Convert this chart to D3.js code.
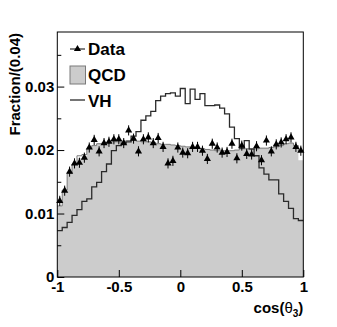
<!DOCTYPE html>
<html>
<head>
<meta charset="utf-8">
<script src="https://cdn.jsdelivr.net/npm/d3@7"></script>
<style>
    body { margin: 0; background: #fff; }
    svg { display: block; font-family: "Liberation Sans", Arial, Helvetica, sans-serif; font-weight: bold; }
</style>
</head>
<body>
<div id="chart"></div>
<script>
// 50 bins of width 0.04 between -1 and 1
const binRange = [-1, 1]
const binCount = 50

const dataValues = [
    0.0120, 0.0136, 0.0166, 0.0179, 0.0180, 0.0188, 0.0204, 0.0216, 0.0198, 0.0211,
    0.0213, 0.0217, 0.0217, 0.0211, 0.0231, 0.0218, 0.0198, 0.0217, 0.0220, 0.0211,
    0.0219, 0.0205, 0.0179, 0.0183, 0.0204, 0.0196, 0.0195, 0.0205, 0.0205, 0.0199,
    0.0186, 0.0210, 0.0204, 0.0196, 0.0197, 0.0210, 0.0187, 0.0207, 0.0194, 0.0193,
    0.0206, 0.0184, 0.0215, 0.0198, 0.0209, 0.0212, 0.0217, 0.0220, 0.0205, 0.0199
]
const dataErrors = 0.0008

const qcdValues = [
    0.0112, 0.0137, 0.0163, 0.0178, 0.0187, 0.0191, 0.0202, 0.0207, 0.0210, 0.0211,
    0.0212, 0.0213, 0.0213, 0.0214, 0.0215, 0.0215, 0.0214, 0.0213, 0.0213, 0.0212,
    0.0210, 0.0209, 0.0209, 0.0208, 0.0207, 0.0206, 0.0205, 0.0204, 0.0203, 0.0202,
    0.0201, 0.0200, 0.0199, 0.0199, 0.0199, 0.0199, 0.0200, 0.0202, 0.0202, 0.0201,
    0.0202, 0.0203, 0.0203, 0.0204, 0.0205, 0.0207, 0.0210, 0.0211, 0.0207, 0.0184
]
// outline drawn over the grey fill, differs from it in a few bins
const qcdLineValues = [
    0.0112, 0.0137, 0.0163, 0.0178, 0.0191, 0.0193, 0.0202, 0.0207, 0.0210, 0.0211,
    0.0212, 0.0213, 0.0213, 0.0214, 0.0215, 0.0215, 0.0214, 0.0213, 0.0213, 0.0212,
    0.0210, 0.0209, 0.0209, 0.0208, 0.0207, 0.0206, 0.0205, 0.0204, 0.0203, 0.0202,
    0.0201, 0.0200, 0.0199, 0.0199, 0.0199, 0.0199, 0.0200, 0.0202, 0.0202, 0.0201,
    0.0202, 0.0203, 0.0203, 0.0204, 0.0205, 0.0207, 0.0210, 0.0211, 0.0207, 0.0199
]

const vhValues = [
    0.0073, 0.0078, 0.0086, 0.0097, 0.0106, 0.0119, 0.0123, 0.0142, 0.0149, 0.0166,
    0.0178, 0.0199, 0.0207, 0.0211, 0.0213, 0.0222, 0.0229, 0.0247, 0.0254, 0.0261,
    0.0278, 0.0285, 0.0289, 0.0290, 0.0285, 0.0297, 0.0273, 0.0296, 0.0280, 0.0289,
    0.0270, 0.0270, 0.0271, 0.0266, 0.0257, 0.0236, 0.0218, 0.0203, 0.0215, 0.0202,
    0.0191, 0.0172, 0.0162, 0.0153, 0.0153, 0.0131, 0.0119, 0.0108, 0.0092, 0.0089
]

const xTicks = [-1, -0.5, 0, 0.5, 1]
const yTicks = [0, 0.01, 0.02, 0.03]
const yMinorTicks = [0.005, 0.015, 0.025, 0.035]
const legendLabels = ["Data", "QCD", "VH"]
const xTitleSub = "3"
const yTitle = "Fraction/(0.04)"

const width = 337, height = 327
const frame = { left: 57.3, right: 303.3, top: 32, bottom: 277 }

const svg = d3.select("#chart")
    .append("svg")
    .attr("width", width)
    .attr("height", height)

const x = d3.scaleLinear().domain(binRange).range([frame.left, frame.right])
const y = d3.scaleLinear().domain([0, 0.0386]).range([frame.bottom, frame.top])

const binWidth = (binRange[1] - binRange[0]) / binCount
const binEdge = i => binRange[0] + i * binWidth

const toSteps = function (values) {
    return values.map((v, i) => [binEdge(i), v]).concat([[binEdge(values.length), values[values.length - 1]]])
}

const stepLine = d3.line()
    .x(d => x(d[0]))
    .y(d => y(d[1]))
    .curve(d3.curveStepAfter)

const stepArea = d3.area()
    .x(d => x(d[0]))
    .y0(y(0))
    .y1(d => y(d[1]))
    .curve(d3.curveStepAfter)

// QCD filled histogram
svg.append("path")
    .attr("d", stepArea(toSteps(qcdValues)))
    .attr("fill", "#cccccc")

svg.append("path")
    .attr("d", stepLine(toSteps(qcdLineValues)))
    .attr("fill", "none")
    .attr("stroke", "#7a7a7a")
    .attr("stroke-width", 1)

// VH line histogram
svg.append("path")
    .attr("d", stepLine(toSteps(vhValues)))
    .attr("fill", "none")
    .attr("stroke", "#2a2a2a")
    .attr("stroke-width", 1.3)

// data points
const triangle = d3.symbol().type(d3.symbolTriangle).size(22)
const points = svg.append("g")
points.selectAll("line")
    .data(dataValues)
    .join("line")
    .attr("x1", (d, i) => x(binEdge(i) + binWidth / 2))
    .attr("x2", (d, i) => x(binEdge(i) + binWidth / 2))
    .attr("y1", d => y(d - dataErrors))
    .attr("y2", d => y(d + dataErrors))
    .attr("stroke", "#000")
    .attr("stroke-width", 1)
points.selectAll("path")
    .data(dataValues)
    .join("path")
    .attr("d", triangle)
    .attr("transform", (d, i) => `translate(${x(binEdge(i) + binWidth / 2)},${y(d)})`)
    .attr("fill", "#000")

// frame
svg.append("rect")
    .attr("x", frame.left)
    .attr("y", frame.top)
    .attr("width", frame.right - frame.left)
    .attr("height", frame.bottom - frame.top)
    .attr("fill", "none")
    .attr("stroke", "#000")
    .attr("stroke-width", 1)

// axes
const yAxis = svg.append("g")
    .attr("transform", `translate(${frame.left},0)`)
    .call(d3.axisLeft(y)
        .tickValues(yTicks)
        .tickSizeInner(-7)
        .tickSizeOuter(0)
        .tickPadding(3)
        .tickFormat(d => d === 0 ? "0" : d3.format(".2f")(d)))
svg.append("g")
    .attr("transform", `translate(${frame.left},0)`)
    .call(d3.axisLeft(y).tickValues(yMinorTicks).tickSizeInner(-4).tickSizeOuter(0).tickFormat(""))
    .call(g => g.select(".domain").remove())

const xAxis = svg.append("g")
    .attr("transform", `translate(0,${frame.bottom})`)
    .call(d3.axisBottom(x)
        .tickValues(xTicks)
        .tickSizeInner(-7)
        .tickSizeOuter(0)
        .tickPadding(4)
        .tickFormat(d => String(d)))

for (let axis of [yAxis, xAxis]) {
    axis.select(".domain").remove()
    axis.selectAll("text")
        .attr("font-size", 15)
        .attr("font-family", "'Liberation Sans', Arial, sans-serif")
        .attr("font-weight", "bold")
        .attr("fill", "#000")
}
svg.selectAll(".tick line").attr("stroke", "#000")

// axis titles
const xLabel = svg.append("text")
    .attr("x", frame.right)
    .attr("y", 313)
    .attr("text-anchor", "end")
    .attr("font-size", 15)
    .text("cos(")
xLabel.append("tspan").attr("font-weight", "normal").text("θ")
xLabel.append("tspan").attr("font-size", 10).attr("dy", 4).text(xTitleSub)
xLabel.append("tspan").attr("dy", -4).text(")")

svg.append("text")
    .attr("transform", `translate(20,${frame.top + 1}) rotate(-90)`)
    .attr("text-anchor", "end")
    .attr("font-size", 15)
    .text(yTitle)

// legend
const legend = svg.append("g")
legend.append("line")
    .attr("x1", 70).attr("x2", 85)
    .attr("y1", 49).attr("y2", 49)
    .attr("stroke", "#000")
legend.append("path")
    .attr("d", triangle)
    .attr("transform", "translate(77.5,49)")
legend.append("rect")
    .attr("x", 70).attr("y", 66)
    .attr("width", 15.5).attr("height", 18)
    .attr("fill", "#cccccc")
    .attr("stroke", "#7a7a7a")
legend.append("line")
    .attr("x1", 70).attr("x2", 85)
    .attr("y1", 100).attr("y2", 100)
    .attr("stroke", "#2a2a2a")
    .attr("stroke-width", 1.3)

legend.selectAll("text")
    .data(legendLabels)
    .join("text")
    .attr("x", 88)
    .attr("y", (d, i) => 55 + i * 26)
    .attr("font-size", 17)
    .text(d => d)
</script>
</body>
</html>
